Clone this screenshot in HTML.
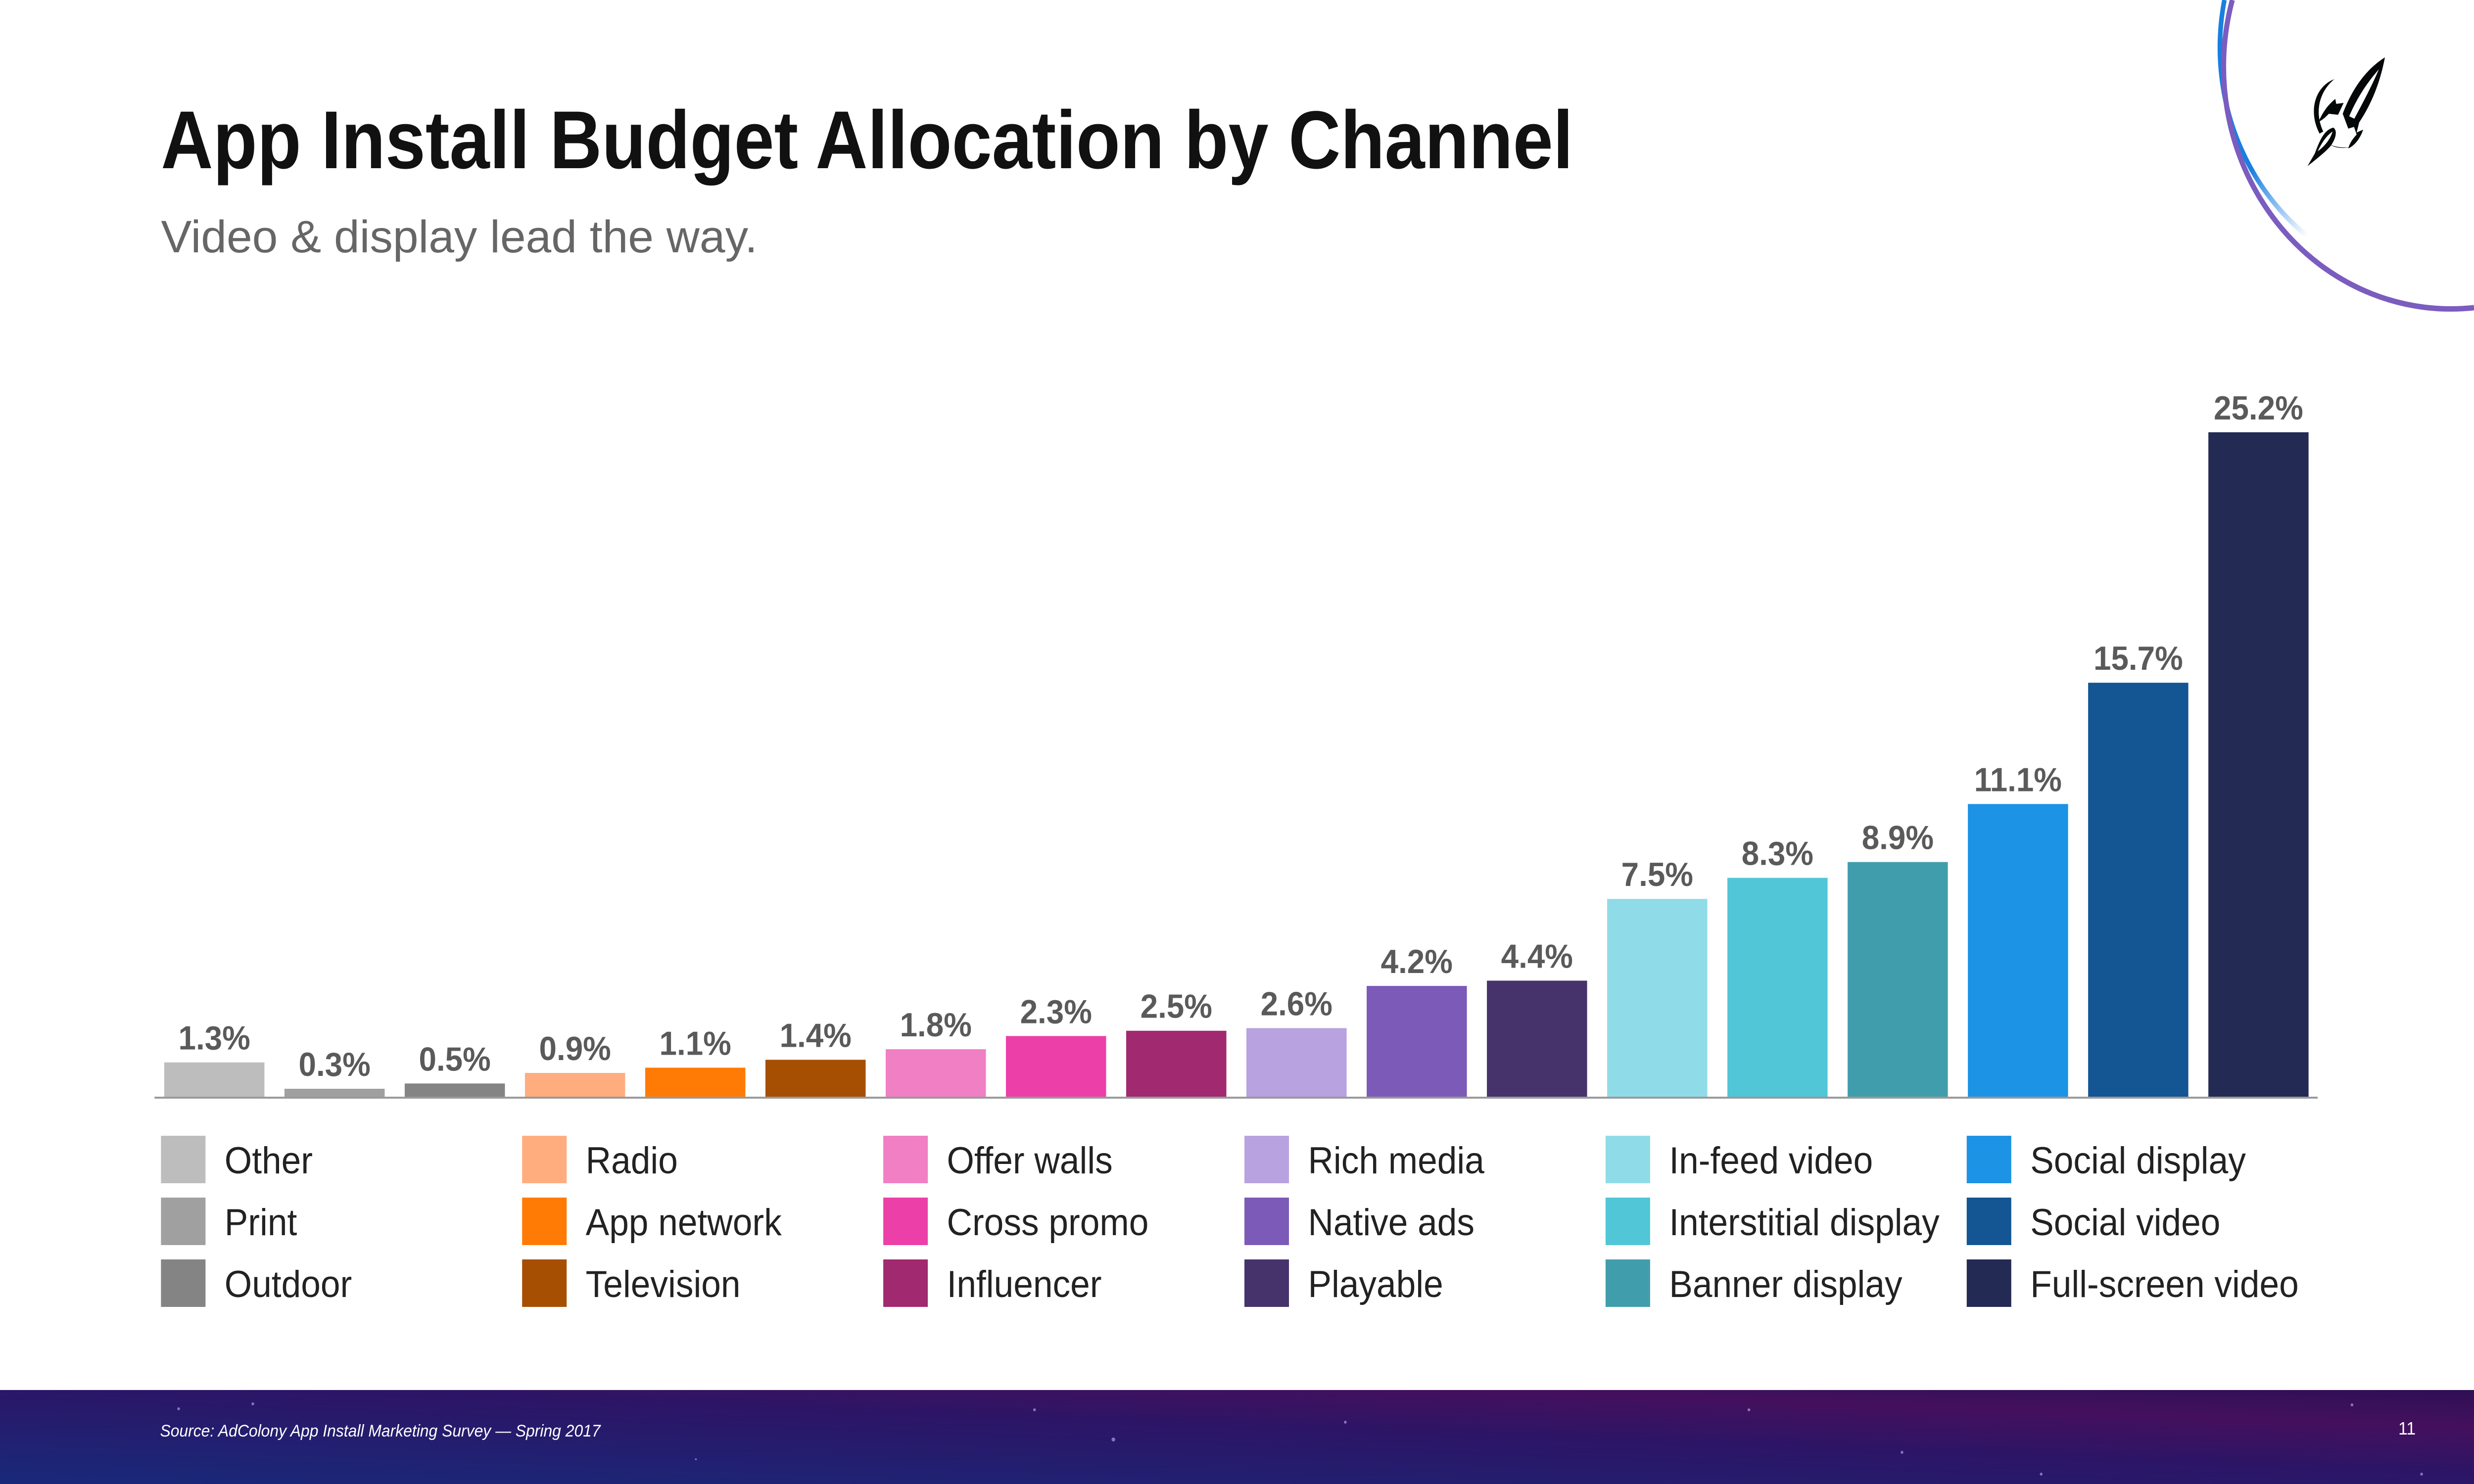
<!DOCTYPE html>
<html><head><meta charset="utf-8">
<style>
html,body{margin:0;padding:0;background:#fff;width:100%;height:100%;overflow:hidden;}
svg{display:block;position:absolute;left:0;top:0;width:100vw;height:100vh;overflow:hidden;font-family:"Liberation Sans",sans-serif;}
</style></head>
<body>
<svg id="chart" viewBox="0 0 5333 3000" preserveAspectRatio="none" xmlns="http://www.w3.org/2000/svg">
<defs>
<linearGradient id="foot" x1="0" y1="1" x2="1" y2="0">
<stop offset="0" stop-color="#19297a"/><stop offset="0.55" stop-color="#2c1566"/><stop offset="0.8" stop-color="#44105e"/><stop offset="1" stop-color="#2e0f55"/>
</linearGradient>
<linearGradient id="blueArc" x1="0" y1="0" x2="0.6" y2="1">
<stop offset="0" stop-color="#1a7fe0"/><stop offset="0.6" stop-color="#1a7fe0"/><stop offset="1" stop-color="#1a7fe0" stop-opacity="0"/>
</linearGradient>
<clipPath id="frame"><rect x="0" y="0" width="5333" height="3000"/></clipPath>
</defs>
<rect x="0" y="0" width="5333" height="3000" fill="#fff"/>
<g clip-path="url(#frame)">
<path d="M4795 0 A480 480 0 0 0 5040 520" fill="none" stroke="url(#blueArc)" stroke-width="10"/>
<path d="M4812 0 A490 490 0 0 0 5333 622" fill="none" stroke="#7b5cbf" stroke-width="11"/>
<g fill="#050808">
<path d="M5141 116 C5100 140 5070 180 5050 230 L5062 260 L5080 255 C5110 215 5130 170 5141 116 Z M5128 140 C5112 175 5095 205 5075 240 L5064 235 C5080 200 5100 170 5128 140 Z"/>
<path d="M5032 160 C4990 175 4975 225 5000 270 L5008 266 C4988 225 5000 185 5032 160 Z"/>
<path d="M5034 200 L5036 210 L5052 208 L5040 232 L5020 230 C5012 238 5004 244 4998 246 C5006 228 5018 212 5034 200 Z"/>
<path d="M5088 238 L5072 250 L5080 272 C5070 282 5064 292 5062 300 C5075 295 5088 280 5094 262 L5080 268 Z"/>
<path d="M5030 258 C5010 262 5000 285 4990 310 L4974 336 C4995 320 5012 308 5024 295 C5034 282 5040 265 5030 258 Z M5028 266 C5024 280 5012 295 4996 306 C5004 290 5014 275 5028 266 Z"/>
<path d="M5022 292 C5040 300 5060 298 5067 298 C5050 300 5035 300 5022 292 Z"/>
</g>
</g>
<text x="347" y="340" font-size="166" font-weight="bold" fill="#111" textLength="3044" lengthAdjust="spacingAndGlyphs">App Install Budget Allocation by Channel</text>
<text x="347" y="510" font-size="92" fill="#666" textLength="1286" lengthAdjust="spacingAndGlyphs">Video &amp; display lead the way.</text>
<g id="bars"></g>
<line x1="333" y1="2219" x2="4996" y2="2219" stroke="#9a9a9a" stroke-width="4"/>
<g id="legend"></g>
<rect x="0" y="2810" width="5333" height="190" fill="url(#foot)"/>
<g fill="#a79be6" opacity="0.7">
<circle cx="385" cy="2848" r="3"/><circle cx="545" cy="2838" r="3"/><circle cx="2230" cy="2850" r="3"/><circle cx="2400" cy="2910" r="4"/><circle cx="3770" cy="2850" r="3"/><circle cx="4100" cy="2936" r="3"/><circle cx="5070" cy="2840" r="3"/><circle cx="5220" cy="2980" r="3"/><circle cx="1500" cy="2950" r="2"/><circle cx="2900" cy="2875" r="3"/><circle cx="4400" cy="2980" r="3"/>
</g>
<text x="345" y="2904" font-size="34" font-style="italic" fill="#fff">Source:  AdColony App Install Marketing Survey — Spring 2017</text>
<text x="5170" y="2900" font-size="36" fill="#fff">11</text>
</svg>
<script>
const categories = ["Other","Print","Outdoor","Radio","App network","Television","Offer walls","Cross promo","Influencer","Rich media","Native ads","Playable","In-feed video","Interstitial display","Banner display","Social display","Social video","Full-screen video"];
const values = [1.3,0.3,0.5,0.9,1.1,1.4,1.8,2.3,2.5,2.6,4.2,4.4,7.5,8.3,8.9,11.1,15.7,25.2];
const valueLabels = ["1.3%","0.3%","0.5%","0.9%","1.1%","1.4%","1.8%","2.3%","2.5%","2.6%","4.2%","4.4%","7.5%","8.3%","8.9%","11.1%","15.7%","25.2%"];
const colors = ["#bdbdbd","#a0a0a0","#848484","#ffad7f","#ff7b06","#a64f02","#f07fc4","#ec3fa8","#a1296f","#b8a2e0","#7c5ab8","#46336b","#8fdce8","#50c6d6","#409eac","#1c93e4","#145593","#232a54"];

const NS = "http://www.w3.org/2000/svg";
const baseY = 2217, pxPerUnit = 53.3, x0 = 354, pitch = 259.2, barW = 216;
function xScale(i){ return x0 + i*pitch; }
function yScale(v){ return baseY - v*pxPerUnit; }

const bars = document.getElementById('bars');
values.forEach((v,i)=>{
  const r = document.createElementNS(NS,'rect');
  
  
  r.setAttribute('x', xScale(i));
  r.setAttribute('y', yScale(v));
  r.setAttribute('width', barW);
  r.setAttribute('height', baseY - yScale(v));
  r.setAttribute('fill', colors[i]);
  bars.appendChild(r);
  const t = document.createElementNS(NS,'text');
  
  
  t.setAttribute('x', xScale(i) + barW/2);
  t.setAttribute('y', yScale(v) - 26);
  t.setAttribute('text-anchor','middle');
  t.setAttribute('font-size','68');
  t.setAttribute('font-weight','bold');
  t.setAttribute('fill','#5a5a5a');
  t.textContent = valueLabels[i];
  bars.appendChild(t);
});

const legend = document.getElementById('legend');
categories.forEach((c,i)=>{
  const col = Math.floor(i/3), row = i%3;
  const lx = 347 + col*778.5, ly = 2296 + row*125;
  const g = document.createElementNS(NS,'g');
  
  
  const s = document.createElementNS(NS,'rect');
  
  
  s.setAttribute('x', lx); s.setAttribute('y', ly);
  s.setAttribute('width', 96); s.setAttribute('height', 96);
  s.setAttribute('fill', colors[i]);
  g.appendChild(s);
  const t = document.createElementNS(NS,'text');
  
  
  t.setAttribute('x', lx + 137); t.setAttribute('y', ly + 76);
  t.setAttribute('font-size','76'); t.setAttribute('fill','#222');
  t.textContent = c;
  g.appendChild(t);
  legend.appendChild(g);
});
</script>
</body></html>
